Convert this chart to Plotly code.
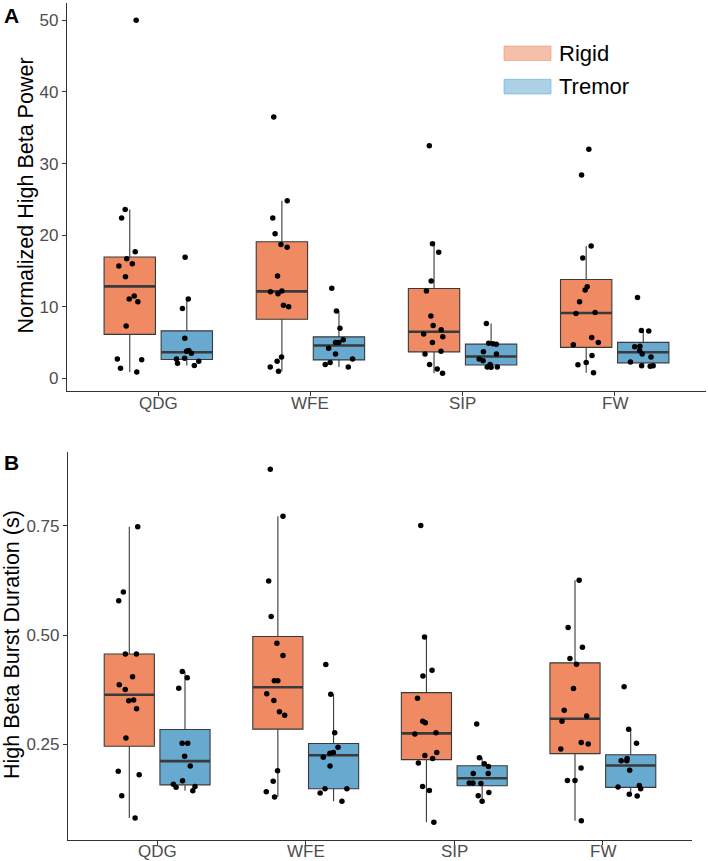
import numpy as np
import plotly.graph_objects as go

# ---------------- data ----------------
tasks = ["QDG", "WFE", "SIP", "FW"]
groups = ["Rigid", "Tremor"]

power_rigid = {
    "QDG": [50.0, 23.6, 22.4, 17.7, 16.7, 16.0, 15.7, 14.2, 11.5, 11.1, 10.7, 7.3, 2.7, 2.6, 1.4, 0.9],
    "WFE": [36.5, 24.8, 22.4, 20.2, 18.7, 18.3, 14.3, 12.2, 12.1, 11.8, 10.2, 10.0, 3.0, 2.4, 1.6, 1.0],
    "SIP": [32.5, 18.8, 17.6, 13.6, 12.2, 8.7, 7.4, 6.8, 6.2, 5.8, 5.0, 3.8, 3.4, 1.95, 1.3, 0.7],
    "FW": [32.0, 28.4, 18.5, 16.8, 12.8, 12.35, 10.7, 9.2, 9.05, 5.7, 5.0, 4.7, 3.2, 2.2, 1.9, 0.8],
}
power_tremor = {
    "QDG": [16.9, 11.1, 9.75, 5.6, 3.9, 3.8, 3.5, 2.8, 2.7, 2.4, 2.1, 1.8],
    "WFE": [12.6, 9.4, 7.0, 5.4, 5.0, 5.0, 4.2, 3.4, 2.7, 2.2, 1.95, 1.6],
    "SIP": [7.66, 4.9, 4.85, 4.75, 3.7, 3.4, 2.7, 2.46, 1.95, 1.6, 1.6, 1.55],
    "FW": [11.3, 6.7, 6.6, 4.5, 4.4, 3.9, 3.4, 3.0, 2.3, 1.76, 1.76, 1.7],
}
dur_rigid = {
    "QDG": [0.748, 0.599, 0.579, 0.457, 0.457, 0.405, 0.387, 0.376, 0.352, 0.350, 0.332, 0.265, 0.189, 0.181, 0.133, 0.082],
    "WFE": [0.880, 0.772, 0.624, 0.543, 0.482, 0.4535, 0.396, 0.396, 0.366, 0.351, 0.325, 0.317, 0.190, 0.166, 0.142, 0.130],
    "SIP": [0.751, 0.496, 0.420, 0.407, 0.356, 0.303, 0.300, 0.277, 0.274, 0.232, 0.225, 0.218, 0.208, 0.154, 0.145, 0.072],
    "FW": [0.626, 0.5175, 0.4726, 0.4466, 0.4337, 0.378, 0.3285, 0.315, 0.303, 0.2546, 0.2515, 0.240, 0.1966, 0.168, 0.1677, 0.0755],
}
dur_tremor = {
    "QDG": [0.417, 0.403, 0.379, 0.253, 0.253, 0.223, 0.201, 0.167, 0.159, 0.154, 0.152, 0.144],
    "WFE": [0.433, 0.365, 0.277, 0.244, 0.232, 0.230, 0.221, 0.201, 0.149, 0.149, 0.139, 0.120],
    "SIP": [0.297, 0.220, 0.206, 0.200, 0.184, 0.184, 0.162, 0.162, 0.161, 0.140, 0.133, 0.120],
    "FW": [0.382, 0.285, 0.253, 0.218, 0.213, 0.213, 0.191, 0.156, 0.153, 0.149, 0.136, 0.132],
}

y_title_a = "Normalized High Beta Power"
y_title_b = "High Beta Burst Duration (s)"
ticks_a = [0, 10, 20, 30, 40, 50]
ticks_b = [0.25, 0.50, 0.75]

# ---------------- style ----------------
FONT = "Liberation Sans, Arial, Helvetica, sans-serif"
fill = {"Rigid": "#EF8A62", "Tremor": "#67A9CF"}
legend_fill = {"Rigid": "rgba(239,138,98,0.55)", "Tremor": "rgba(103,169,207,0.55)"}
OUT = "#3a3a3a"
DODGE = 0.1875
BOXW = 0.3375
TICKFONT = dict(family=FONT, size=17, color="#4D4D4D")

W, H = 708, 861
dom_a_x = [67 / W, 706 / W]
dom_b_x = [68 / W, 692 / W]
dom_a_y = [(H - 391) / H, (H - 2.7) / H]
dom_b_y = [(H - 840) / H, (H - 451.5) / H]


def stats(vals):
    v = np.sort(np.asarray(vals, dtype=float))
    q1, med, q3 = np.percentile(v, [25, 50, 75])
    iqr = q3 - q1
    lo = v[v >= q1 - 1.5 * iqr].min()
    hi = v[v <= q3 + 1.5 * iqr].max()
    return q1, med, q3, lo, hi


fig = go.Figure()


def add_panel(rigid, tremor, xa, ya):
    for g, d in [("Rigid", rigid), ("Tremor", tremor)]:
        off = -DODGE if g == "Rigid" else DODGE
        pos = [i + 1 + off for i in range(len(tasks))]
        st = [stats(d[t]) for t in tasks]
        q1 = [s[0] for s in st]
        md = [s[1] for s in st]
        q3 = [s[2] for s in st]
        lo = [s[3] for s in st]
        hi = [s[4] for s in st]
        fig.add_trace(go.Box(
            x=pos, q1=q1, median=md, q3=q3, lowerfence=lo, upperfence=hi,
            width=BOXW, fillcolor=fill[g], line=dict(color=OUT, width=1.1),
            whiskerwidth=0, boxpoints=False, showlegend=False, name=g,
            xaxis=xa, yaxis=ya, hoverinfo="skip"))
        fig.add_trace(go.Box(
            x=pos, q1=md, median=md, q3=md, lowerfence=md, upperfence=md,
            width=BOXW, fillcolor="rgba(0,0,0,0)", line=dict(color=OUT, width=2.6),
            whiskerwidth=0, boxpoints=False, showlegend=False, name=g,
            xaxis=xa, yaxis=ya, hoverinfo="skip"))
        xs, ys = [], []
        for i, t in enumerate(tasks):
            xs += [pos[i]] * len(d[t])
            ys += d[t]
        fig.add_trace(go.Box(
            x=xs, y=ys, width=BOXW, boxpoints="all", jitter=0.6, pointpos=0,
            fillcolor="rgba(0,0,0,0)", line=dict(color="rgba(0,0,0,0)", width=0),
            marker=dict(color="black", size=5.5), showlegend=False, name=g,
            xaxis=xa, yaxis=ya, hoveron="points"))


add_panel(power_rigid, power_tremor, "x", "y")
add_panel(dur_rigid, dur_tremor, "x2", "y2")


def yrange(*dicts):
    allv = np.concatenate([np.asarray(d[t]) for d in dicts for t in tasks])
    span = allv.max() - allv.min()
    return [allv.min() - 0.05 * span, allv.max() + 0.05 * span]


axis_common = dict(showline=True, linecolor="#333333", linewidth=1.2, mirror=False,
                   showgrid=False, zeroline=False, ticks="outside", ticklen=4,
                   tickwidth=1, tickcolor="#333333", tickfont=TICKFONT)

xr = [0.4, len(tasks) + 0.6]
cat_pos = list(range(1, len(tasks) + 1))
fig.update_layout(
    width=W, height=H, margin=dict(l=0, r=0, t=0, b=0),
    paper_bgcolor="white", plot_bgcolor="white",
    font=dict(family=FONT),
    xaxis=dict(domain=dom_a_x, anchor="y", range=xr, tickvals=cat_pos,
               showticklabels=False, **axis_common),
    yaxis=dict(domain=dom_a_y, anchor="x", range=yrange(power_rigid, power_tremor),
               tickvals=ticks_a, ticktext=[str(v) for v in ticks_a], **axis_common),
    xaxis2=dict(domain=dom_b_x, anchor="y2", range=xr, tickvals=cat_pos,
                showticklabels=False, **axis_common),
    yaxis2=dict(domain=dom_b_y, anchor="x2", range=yrange(dur_rigid, dur_tremor),
                tickvals=ticks_b, ticktext=[f"{v:.2f}" for v in ticks_b], **axis_common),
    showlegend=False,
)

ann = []
for xref, ycen in (("x", 404), ("x2", 851.5)):
    for p, t in zip(cat_pos, tasks):
        ann.append(dict(text=t, x=p, y=1 - ycen / H, xref=xref, yref="paper",
                        xanchor="center", yanchor="middle", showarrow=False,
                        font=TICKFONT))
ann.append(dict(text="<b>A</b>", x=2 / W, y=1 - 2 / H, xref="paper", yref="paper",
                xanchor="left", yanchor="top", showarrow=False,
                font=dict(family=FONT, size=21, color="black")))
ann.append(dict(text="<b>B</b>", x=2 / W, y=1 - 449 / H, xref="paper", yref="paper",
                xanchor="left", yanchor="top", showarrow=False,
                font=dict(family=FONT, size=21, color="black")))
ann.append(dict(text=y_title_a, x=25.5 / W, y=1 - 196 / H, xref="paper", yref="paper",
                xanchor="center", yanchor="middle", textangle=-90, showarrow=False,
                font=dict(family=FONT, size=21.5, color="black")))
ann.append(dict(text=y_title_b, x=12 / W, y=1 - 645 / H, xref="paper", yref="paper",
                xanchor="center", yanchor="middle", textangle=-90, showarrow=False,
                font=dict(family=FONT, size=21.5, color="black")))

shapes = []
leg_rows = [(46, 60.5), (79.3, 94)]
for g, (y0, y1) in zip(groups, leg_rows):
    shapes.append(dict(type="rect", xref="paper", yref="paper",
                       x0=504 / W, x1=551 / W, y0=1 - y1 / H, y1=1 - y0 / H,
                       fillcolor=legend_fill[g], line=dict(color=legend_fill[g], width=1)))
    ann.append(dict(text=g, x=557 / W, y=1 - (y0 + y1) / 2 / H, xref="paper", yref="paper",
                    xanchor="left", yanchor="middle", showarrow=False,
                    font=dict(family=FONT, size=22, color="black")))

fig.update_layout(annotations=ann, shapes=shapes)
fig.write_html("out.html", config={"displayModeBar": False},
               post_script="document.body.style.margin='0';document.body.style.overflow='hidden';")
